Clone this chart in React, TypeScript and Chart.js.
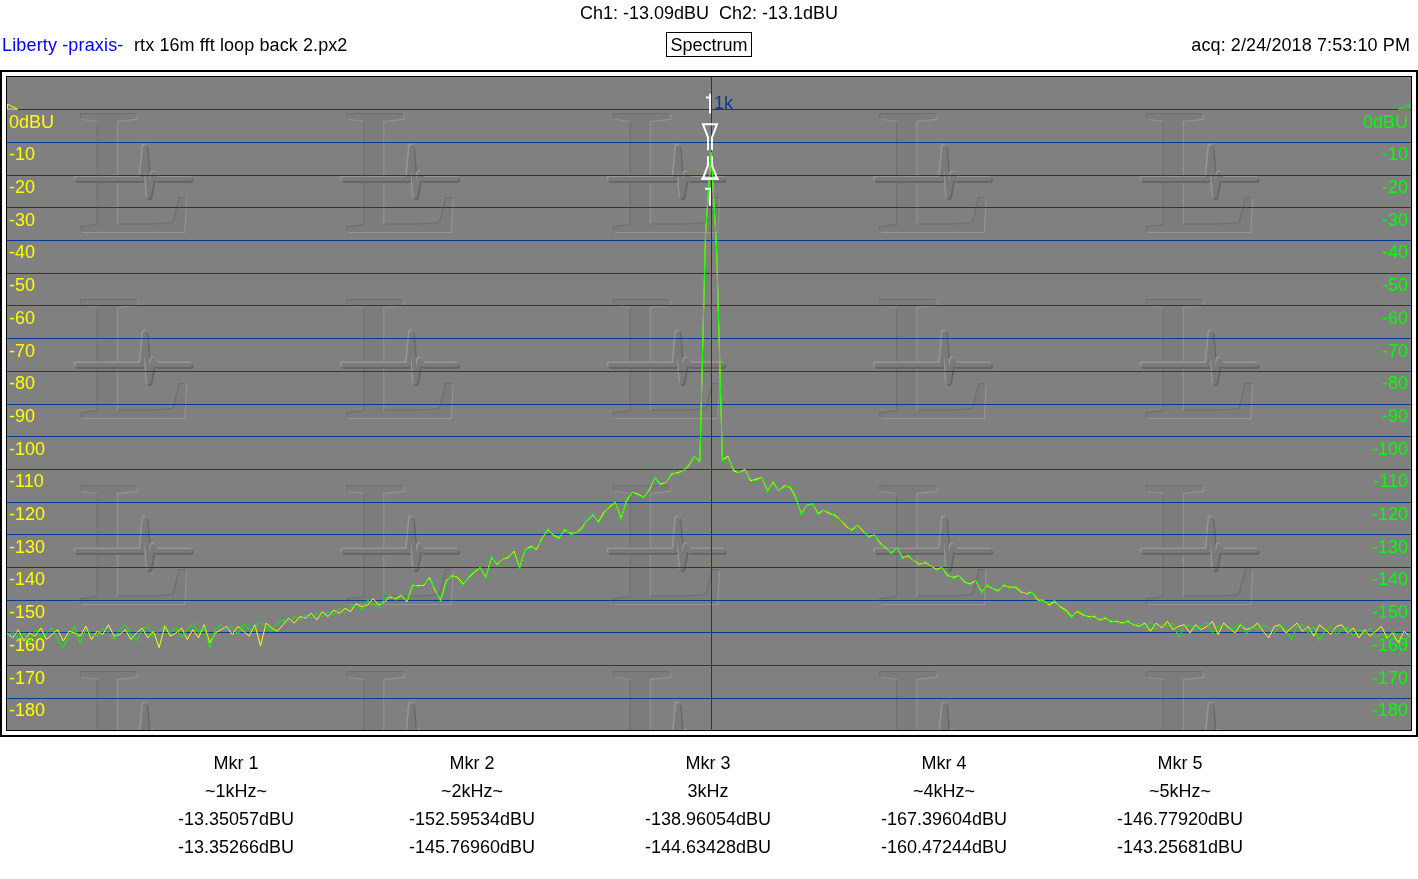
import React, { useEffect, useRef } from 'react';
import { Chart, registerables } from 'chart.js';

Chart.register(...registerables);

// ---------- data ----------
const BIN_HZ = 8; // FFT bin spacing (Hz)
const X_MIN = 0;
const X_MAX = 1994;
const Y_MIN = -190;
const Y_MAX = 10;
const Y_TICKS = [0, -10, -20, -30, -40, -50, -60, -70, -80, -90, -100, -110, -120, -130, -140, -150, -160, -170, -180];
const X_GRID = [1000];

// Ch2 (green) level per bin, dBU
const CH2_LEVELS = [
  -161, -159.5, -162, -160, -163, -159, -161.5, -160, -158.5, -162,
  -164.5, -161, -158, -163, -159, -160.5, -161, -158.5, -160, -162,
  -159, -157.5, -160.5, -162.5, -159, -158, -161, -159.5, -157.5, -160,
  -158.5, -161.5, -159, -157, -160, -158, -164.5, -159, -157.5, -159,
  -158, -160.5, -157, -159, -158.5, -156.5, -158, -159.5, -157, -156,
  -156.5, -155, -156, -154.5, -155.5, -154, -155, -153.5, -154.5, -152.5,
  -154, -152, -151.5, -153, -150, -151, -152.5, -149.5, -148.5, -150,
  -149, -150.2, -145, -146, -145, -143.5, -146.5, -150.5, -144.5, -142,
  -143.5, -145.5, -142.5, -141, -140, -143.5, -136.5, -139.5, -137.5, -136.5,
  -135.5, -140.5, -134.5, -134, -134, -131.5, -128, -130.5, -131.5, -128,
  -130, -129.5, -128.5, -125.5, -123.5, -126.5, -123.5, -121, -120, -125.5,
  -119, -117, -118, -118.5, -116, -112.5, -115, -114, -111, -111.5,
  -110.5, -108.5, -106, -108, -38, -13.1, -43, -107.5, -106.5, -110,
  -111, -110.5, -113, -113.5, -112.5, -117, -113.5, -116.5, -115.5, -115,
  -118, -124, -121, -120.5, -124, -122.5, -123, -124.5, -125.5, -127,
  -129, -127, -128.5, -131, -130, -133, -133.5, -136, -134, -137.5,
  -136, -138, -139.5, -138, -139.5, -141, -140, -142, -143.5, -142.5,
  -144, -145.5, -144, -148, -145, -146.5, -147.5, -145, -146.5, -145.5,
  -147, -148.5, -147.5, -149.5, -150.5, -151, -150, -152.5, -153.5, -155.5,
  -153, -154, -155.5, -154.5, -156.5, -155, -157, -156, -157.5, -156,
  -158, -157, -158.5, -156.5, -159, -157.5, -158, -157, -161.5, -158,
  -157.5, -159, -158, -156.5, -160, -158, -157.5, -159, -158.5, -157,
  -160.5, -158, -159, -157.5, -158.5, -160, -157.5, -159, -162, -158,
  -157.5, -160, -158, -162.5, -159, -158, -160.5, -159, -158.5, -161,
  -159, -160, -158.5, -161.5, -160, -162, -159.5, -161, -164, -160,
];

// Ch1 (yellow) level per bin, dBU
const CH1_LEVELS = [
  -160, -161.5, -159, -162.5, -160, -161, -158.5, -162, -160.5, -159,
  -162.5, -159.5, -160, -161, -158, -162, -159.5, -160.5, -157.5, -161,
  -160.5, -159, -162, -160, -158.5, -161.5, -159.5, -164.5, -158, -161,
  -160, -158.5, -162, -159, -161.5, -157.5, -163, -160, -159, -158,
  -160.5, -158, -159.5, -161, -157.5, -164, -157, -158.5, -159.5, -157.5,
  -155.5, -157, -155, -155.5, -154, -156, -153.5, -155, -153, -154,
  -152.5, -153.5, -151, -152, -151.5, -149.5, -151.5, -150.5, -149, -149.5,
  -148.5, -150.5, -145.5, -145.5, -145.5, -143, -147, -150, -144, -142.5,
  -143, -145, -143, -141.5, -140, -143, -137, -139, -137.5, -137,
  -135, -140, -134.5, -133.5, -134.5, -131, -128.5, -130, -131, -128.5,
  -129.5, -129.5, -128, -125.5, -124, -126, -123, -121.5, -120, -125,
  -119.5, -117, -117.5, -118.5, -116.5, -112.5, -114.5, -114, -111.5, -111,
  -110.5, -109, -106, -107.5, -38.5, -13.1, -43.5, -107, -106, -110.5,
  -111, -110, -113.5, -113, -112.5, -116.5, -114, -116.5, -115, -115.5,
  -118.5, -123.5, -121, -120.5, -123.5, -122.5, -123.5, -124, -125.5, -127.5,
  -128.5, -127, -129, -130.5, -130, -132.5, -134, -135.5, -134, -137,
  -136.5, -138, -139, -138.5, -139.5, -140.5, -140, -142.5, -143, -142.5,
  -144.5, -145, -144, -147.5, -145.5, -146.5, -147, -145.5, -146, -146,
  -147.5, -148, -147.5, -150, -150, -151.5, -150.5, -152, -153, -155,
  -153.5, -154.5, -155, -155, -156, -155.5, -156.5, -156.5, -157, -156.5,
  -157.5, -158, -157, -159.5, -157, -158.5, -156.5, -159, -158, -157.5,
  -160, -157.5, -159, -158, -156.5, -160.5, -157, -158.5, -160, -157.5,
  -159, -158.5, -157, -159.5, -161.5, -158, -157.5, -160, -158.5, -157,
  -159.5, -158, -161, -157.5, -159, -160.5, -158, -157.5, -160, -158.5,
  -161.5, -159, -161, -159.5, -158, -161.5, -160, -163, -159.5, -161,
];

const MARKER_FREQ = 1000;
const MARKER_LEVEL = -13.35;
const MARKER_LABEL = '1k';

const READOUT = 'Ch1: -13.09dBU  Ch2: -13.1dBU';
const BRAND = 'Liberty -praxis-';
const FILE_NAME = 'rtx 16m fft loop back 2.px2';
const MODE = 'Spectrum';
const ACQ = 'acq: 2/24/2018 7:53:10 PM';

const MKR_NAMES = ['Mkr 1', 'Mkr 2', 'Mkr 3', 'Mkr 4', 'Mkr 5'];
const MKR_FREQS = ['~1kHz~', '~2kHz~', '3kHz', '~4kHz~', '~5kHz~'];
const MKR_CH1 = ['-13.35057dBU', '-152.59534dBU', '-138.96054dBU', '-167.39604dBU', '-146.77920dBU'];
const MKR_CH2 = ['-13.35266dBU', '-145.76960dBU', '-144.63428dBU', '-160.47244dBU', '-143.25681dBU'];

// ---------- styles ----------
const FONT = '"Liberation Sans", Arial, Helvetica, sans-serif';
const GRID_COLOR = '#0b3b8f';
const BG = '#808080';
const YELLOW = '#ffff00';
const GREEN = '#00ff00';

function drawLogo(ctx: CanvasRenderingContext2D, x: number, y: number) {
  ctx.save();
  ctx.translate(x - 3, y + 120);
  ctx.scale(1.12, 1);
  ctx.font = '180px "Liberation Serif", "DejaVu Serif", serif';
  ctx.textBaseline = 'alphabetic';
  ctx.fillStyle = '#6e6e6e';
  ctx.fillText('L', -1, -1);
  ctx.fillStyle = '#959595';
  ctx.fillText('L', 1, 1);
  ctx.fillStyle = '#7c7c7c';
  ctx.fillText('L', 0, 0);
  ctx.restore();

  const hb: [number, number][] = [[-1, 67], [64, 67], [67, 35], [71, 84], [75, 62], [79, 67], [112, 67]];
  const path = (dx: number, dy: number) => {
    ctx.beginPath();
    hb.forEach(([px, py], i) => {
      if (i === 0) ctx.moveTo(x + px + dx, y + py + dy);
      else ctx.lineTo(x + px + dx, y + py + dy);
    });
  };
  ctx.save();
  ctx.lineJoin = 'round';
  ctx.lineCap = 'round';
  ctx.lineWidth = 5;
  path(1, 1.5);
  ctx.strokeStyle = '#666666';
  ctx.stroke();
  path(-1, -1);
  ctx.strokeStyle = '#959595';
  ctx.stroke();
  ctx.lineWidth = 4;
  path(0, 0);
  ctx.strokeStyle = '#7a7a7a';
  ctx.stroke();
  ctx.restore();
}

const framePlugin = {
  id: 'frame',
  afterLayout(chart: any) {
    // keep the right-hand mirrored labels inside the plot, like the left ones
    const s = chart.scales.y2;
    if (s) {
      const shift = s.right - s.left;
      s.left -= shift;
      s.right -= shift;
    }
  },
  beforeDraw(chart: any) {
    const { ctx, chartArea: a } = chart;
    const w = a.right - a.left;
    const h = a.bottom - a.top;
    ctx.save();
    ctx.fillStyle = '#ffffff';
    ctx.fillRect(0, 0, chart.width, chart.height);
    ctx.strokeStyle = '#000000';
    ctx.lineWidth = 2;
    ctx.strokeRect(a.left - 6, a.top - 6, w + 12, h + 11);
    ctx.lineWidth = 1;
    ctx.strokeRect(a.left - 0.5, a.top - 0.5, w + 1, h);
    ctx.fillStyle = BG;
    ctx.fillRect(a.left, a.top, w, h - 1);
    ctx.beginPath();
    ctx.rect(a.left, a.top, w, h - 1);
    ctx.clip();
    for (let r = 0; r < 4; r++) {
      for (let c = 0; c < 5; c++) {
        drawLogo(ctx, a.left + 71 + c * 266.5, a.top + 35 + r * 186);
      }
    }
    ctx.restore();
  },
};

const markerPlugin = {
  id: 'markers',
  afterDatasetsDraw(chart: any) {
    const { ctx, chartArea: a } = chart;
    const xs = chart.scales.x;
    const ys = chart.scales.y;
    const y0 = ys.getPixelForValue(0);
    ctx.save();
    // reference level triangles
    ctx.lineWidth = 1;
    ctx.strokeStyle = YELLOW;
    ctx.beginPath();
    ctx.moveTo(a.left + 0.5, y0 - 5.5);
    ctx.lineTo(a.left + 0.5, y0 - 0.5);
    ctx.lineTo(a.left + 10.5, y0 - 0.5);
    ctx.closePath();
    ctx.stroke();
    ctx.strokeStyle = GREEN;
    ctx.beginPath();
    ctx.moveTo(a.right - 1.5, y0 - 5.5);
    ctx.lineTo(a.right - 1.5, y0 - 0.5);
    ctx.lineTo(a.right - 12.5, y0 - 0.5);
    ctx.closePath();
    ctx.stroke();

    const mx = Math.round(xs.getPixelForValue(MARKER_FREQ)) - 1;
    const ty = ys.getPixelForValue(MARKER_LEVEL);
    ctx.strokeStyle = '#ffffff';
    ctx.lineWidth = 2;
    ctx.lineJoin = 'miter';
    ctx.beginPath();
    ctx.moveTo(mx - 2, ty - 3);
    ctx.lineTo(mx - 2, ty - 16);
    ctx.lineTo(mx - 7, ty - 29);
    ctx.lineTo(mx + 7, ty - 29);
    ctx.lineTo(mx + 2, ty - 16);
    ctx.lineTo(mx + 2, ty - 3);
    ctx.stroke();
    ctx.beginPath();
    ctx.moveTo(mx - 2, ty + 3);
    ctx.lineTo(mx - 2, ty + 12);
    ctx.lineTo(mx - 7, ty + 25);
    ctx.lineTo(mx + 7, ty + 25);
    ctx.lineTo(mx + 2, ty + 12);
    ctx.lineTo(mx + 2, ty + 3);
    ctx.stroke();
    ctx.beginPath();
    ctx.moveTo(mx - 9, ty + 25.5);
    ctx.lineTo(mx + 9, ty + 25.5);
    ctx.stroke();
    // secondary cursor
    const c1 = ys.getPixelForValue(-24.2);
    const c2 = ys.getPixelForValue(-29.4);
    ctx.beginPath();
    ctx.moveTo(mx - 5, c1);
    ctx.lineTo(mx, c1);
    ctx.lineTo(mx, c2);
    ctx.stroke();
    // top tick
    const t1 = ys.getPixelForValue(4.9);
    const t2 = ys.getPixelForValue(-1.2);
    const t3 = ys.getPixelForValue(3.7);
    ctx.beginPath();
    ctx.moveTo(mx, t1);
    ctx.lineTo(mx, t2);
    ctx.moveTo(mx - 4, t3);
    ctx.lineTo(mx, t3);
    ctx.stroke();
    ctx.fillStyle = GRID_COLOR;
    ctx.font = '18px ' + FONT;
    ctx.textBaseline = 'alphabetic';
    ctx.textAlign = 'left';
    ctx.fillText(MARKER_LABEL, mx + 4, y0 - 1);
    ctx.restore();
  },
};

const tickLabel = (v: number | string) => {
  const n = Number(v);
  return n === 0 ? '0dBU' : String(n);
};

export default function App() {
  const canvasRef = useRef<HTMLCanvasElement>(null);

  useEffect(() => {
    const canvas = canvasRef.current;
    if (!canvas) return;
    const setTicks = (s: any) => {
      s.ticks = Y_TICKS.map((v) => ({ value: v }));
    };
    const chart = new Chart(canvas, {
      type: 'line',
      data: {
        datasets: [
          {
            label: 'Ch2',
            data: CH2_LEVELS.map((v, i) => ({ x: i * BIN_HZ, y: v })),
            borderColor: GREEN,
            borderWidth: 1,
            pointRadius: 0,
            tension: 0,
            fill: false,
            order: 0,
          },
          {
            label: 'Ch1',
            data: CH1_LEVELS.map((v, i) => ({ x: i * BIN_HZ, y: v })),
            borderColor: YELLOW,
            borderWidth: 1,
            pointRadius: 0,
            tension: 0,
            fill: false,
            order: 1,
          },
        ],
      },
      options: {
        animation: false,
        responsive: false,
        devicePixelRatio: 1,
        events: [],
        layout: { padding: { left: 3, right: 1, top: 77, bottom: 148 } },
        plugins: { legend: { display: false }, tooltip: { enabled: false } },
        scales: {
          x: {
            type: 'linear',
            min: X_MIN,
            max: X_MAX,
            afterBuildTicks: (s: any) => {
              s.ticks = X_GRID.map((v) => ({ value: v }));
            },
            ticks: { display: false },
            grid: { color: GRID_COLOR, drawTicks: false, lineWidth: 1 },
            border: { display: false },
          },
          y: {
            type: 'linear',
            position: 'left',
            min: Y_MIN,
            max: Y_MAX,
            afterBuildTicks: setTicks,
            ticks: {
              mirror: true,
              padding: 2,
              labelOffset: 13,
              autoSkip: false,
              color: YELLOW,
              font: { family: FONT, size: 18 },
              callback: tickLabel,
            },
            grid: { color: GRID_COLOR, drawTicks: false, lineWidth: 1 },
            border: { display: false },
          },
          y2: {
            type: 'linear',
            position: 'right',
            min: Y_MIN,
            max: Y_MAX,
            afterBuildTicks: setTicks,
            ticks: {
              mirror: true,
              padding: 3,
              labelOffset: 13,
              autoSkip: false,
              color: GREEN,
              font: { family: FONT, size: 18 },
              callback: tickLabel,
            },
            grid: { display: false, drawTicks: false },
            border: { display: false },
          },
        },
      } as any,
      plugins: [framePlugin, markerPlugin],
    });
    return () => chart.destroy();
  }, []);

  const abs = (left: number, top: number, extra: React.CSSProperties = {}): React.CSSProperties => ({
    position: 'absolute',
    left,
    top,
    whiteSpace: 'pre',
    ...extra,
  });

  const colCenters = [236, 472, 708, 944, 1180];
  const rows = [MKR_NAMES, MKR_FREQS, MKR_CH1, MKR_CH2];
  const rowTops = [754, 782, 810, 838];

  return (
    <div
      style={{
        position: 'relative',
        width: 1418,
        height: 879,
        fontFamily: FONT,
        fontSize: 18,
        lineHeight: '18px',
        color: '#000',
        background: '#fff',
        overflow: 'hidden',
      }}
    >
      <style>{'body{margin:0;background:#fff}'}</style>
      <canvas
        ref={canvasRef}
        width={1418}
        height={879}
        style={{ position: 'absolute', left: 0, top: 0, width: 1418, height: 879 }}
      />
      <div style={abs(0, 4, { width: 1418, textAlign: 'center' })}>{READOUT}</div>
      <div style={abs(2, 36, { color: '#0000ff', letterSpacing: '0.15px' })}>{BRAND}</div>
      <div style={abs(134, 36, { letterSpacing: '0.1px' })}>{FILE_NAME}</div>
      <div
        style={abs(666, 32, {
          width: 84,
          height: 23,
          border: '1px solid #000',
          lineHeight: '25px',
          textAlign: 'center',
        })}
      >
        {MODE}
      </div>
      <div style={abs(1010, 36, { width: 400, textAlign: 'right', letterSpacing: '0.1px' })}>{ACQ}</div>
      {rows.map((row, r) =>
        row.map((txt, c) => (
          <div
            key={r + '-' + c}
            style={abs(colCenters[c] - 110, rowTops[r], { width: 220, textAlign: 'center' })}
          >
            {txt}
          </div>
        ))
      )}
    </div>
  );
}
